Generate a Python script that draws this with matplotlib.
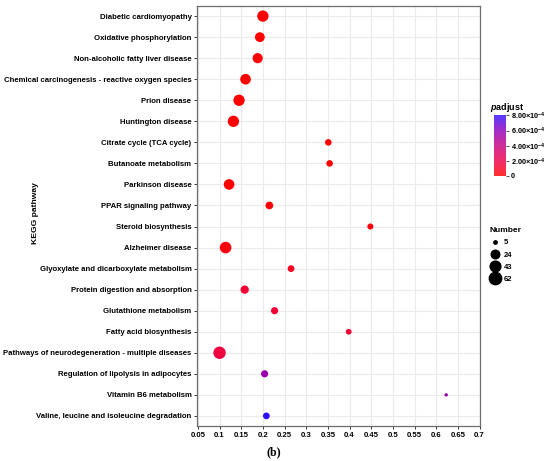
import numpy as np
import matplotlib
matplotlib.use("Agg")
import matplotlib.pyplot as plt
from matplotlib.colors import LinearSegmentedColormap, Normalize
from matplotlib.lines import Line2D

plt.rcParams['font.family'] = ['Liberation Sans', 'DejaVu Sans']
plt.rcParams['mathtext.fontset'] = 'custom'
plt.rcParams['mathtext.rm'] = 'Liberation Sans:bold'
plt.rcParams['mathtext.bf'] = 'Liberation Sans:bold'
plt.rcParams['mathtext.it'] = 'Liberation Sans:bold:italic'
plt.rcParams['mathtext.default'] = 'rm'

pathways = [
    "Diabetic cardiomyopathy",
    "Oxidative phosphorylation",
    "Non-alcoholic fatty liver disease",
    "Chemical carcinogenesis - reactive oxygen species",
    "Prion disease",
    "Huntington disease",
    "Citrate cycle (TCA cycle)",
    "Butanoate metabolism",
    "Parkinson disease",
    "PPAR signaling pathway",
    "Steroid biosynthesis",
    "Alzheimer disease",
    "Glyoxylate and dicarboxylate metabolism",
    "Protein digestion and absorption",
    "Glutathione metabolism",
    "Fatty acid biosynthesis",
    "Pathways of neurodegeneration - multiple diseases",
    "Regulation of lipolysis in adipocytes",
    "Vitamin B6 metabolism",
    "Valine, leucine and isoleucine degradation",
]
gene_ratio = [0.200, 0.193, 0.188, 0.160, 0.145, 0.132, 0.351, 0.354, 0.122, 0.215,
              0.448, 0.114, 0.265, 0.158, 0.227, 0.398, 0.100, 0.204, 0.623, 0.208]
number = [49, 34, 37, 42, 49, 49, 12, 12, 42, 18,
          10, 52, 13, 22, 15, 9, 62, 15, 5, 13]
padjust = [1e-12, 1e-11, 1e-10, 1e-9, 1e-8, 1e-7, 2e-6, 3e-6, 5e-6, 2e-5,
           3e-5, 4e-5, 1.0e-4, 1.4e-4, 1.5e-4, 1.6e-4, 1.8e-4, 5.5e-4, 5.6e-4, 8.1e-4]
x_ticks = [0.05, 0.1, 0.15, 0.2, 0.25, 0.3, 0.35, 0.4, 0.45, 0.5, 0.55, 0.6, 0.65, 0.7]
x_tick_labels = ["0.05", "0.1", "0.15", "0.2", "0.25", "0.3", "0.35", "0.4", "0.45",
                 "0.5", "0.55", "0.6", "0.65", "0.7"]
cbar_ticks = [0, 2e-4, 4e-4, 6e-4, 8e-4]
cbar_labels = ["0", r"$2.00{\times}10^{-4}$", r"$4.00{\times}10^{-4}$",
               r"$6.00{\times}10^{-4}$", r"$8.00{\times}10^{-4}$"]
size_breaks = [5, 24, 43, 62]

W, H = 550, 461
fig = plt.figure(figsize=(W / 100, H / 100), dpi=100)
ax = fig.add_axes([197 / W, 1 - 426 / H, (480 - 197) / W, (426 - 6) / H])

cmap = LinearSegmentedColormap.from_list(
    "rb", ["#FF0000", "#F2003C", "#D8006A", "#B00098", "#7F00C8", "#2A10FF"])
vmin, vmax = 0, max(padjust)
norm = Normalize(vmin=vmin, vmax=vmax)

nmin, nmax = min(number), max(number)


def diam_pt(n):
    n = np.asarray(n, dtype=float)
    return 0.72 * (3.4 + 9.0 * np.sqrt((n - nmin) / (nmax - nmin)))


ypos = np.arange(len(pathways))[::-1] + 1
ax.scatter(gene_ratio, ypos, s=diam_pt(number) ** 2, c=padjust, cmap=cmap, norm=norm,
           linewidths=0, zorder=3)

ax.set_xlim(0.05 - 0.002, 0.70 + 0.001)
ax.set_ylim(0.52, len(pathways) + 0.48)
ax.set_yticks(ypos)
ax.set_yticklabels(pathways, fontsize=5.55, fontweight='bold')
ax.set_xticks(x_ticks)
ax.set_xticklabels(x_tick_labels, fontsize=5.6, fontweight='bold')
ax.grid(True, color='#EBEBEB', linewidth=0.8, zorder=0)
ax.set_axisbelow(True)
for sp in ax.spines.values():
    sp.set_color('#6E6E6E')
    sp.set_linewidth(0.9)
ax.tick_params(axis='both', length=2.5, width=0.7, color='#333333', pad=1.5)
ax.set_ylabel("KEGG pathway", fontsize=6.1, fontweight='bold')
ax.yaxis.set_label_coords(-0.56, 0.508)

# colour bar
cax = fig.add_axes([494 / W, 1 - 176 / H, 12 / W, 61 / H])
sm = plt.cm.ScalarMappable(cmap=cmap, norm=Normalize(0, 8.05e-4))
cb = fig.colorbar(sm, cax=cax)
cb.solids.set_alpha(0.82)
cb.outline.set_visible(False)
cb.set_ticks(cbar_ticks)
cb.set_ticklabels(cbar_labels)
cax.tick_params(labelsize=5.3, length=2, width=0.6, color='#333333', pad=1.5)
for lab in cax.get_yticklabels():
    lab.set_fontweight('bold')
fig.text(490 / W, 1 - 107 / H, r"$\it{p}$adjust", fontsize=6.5, fontweight='bold',
         va='center', ha='left')

# size legend
handles = [Line2D([], [], linestyle='none', marker='o', color='black',
                  markersize=float(diam_pt(b))) for b in size_breaks]
leg = fig.legend(handles, [str(b) for b in size_breaks], title="Number",
                 loc='upper left', bbox_to_anchor=(484 / W, 1 - 222 / H),
                 frameon=False, fontsize=5.5, title_fontsize=6,
                 handletextpad=0.25, labelspacing=0.62, borderpad=0.2,
                 handlelength=1.6)
leg.get_title().set_fontweight('bold')
leg._legend_box.align = 'left'
for txt in leg.get_texts():
    txt.set_fontweight('bold')

fig.text(274 / W, 1 - 452 / H, "(b)", fontsize=8.5, fontweight='bold',
         family='Liberation Serif', ha='center', va='center')

fig.savefig("out.png", dpi=100)
